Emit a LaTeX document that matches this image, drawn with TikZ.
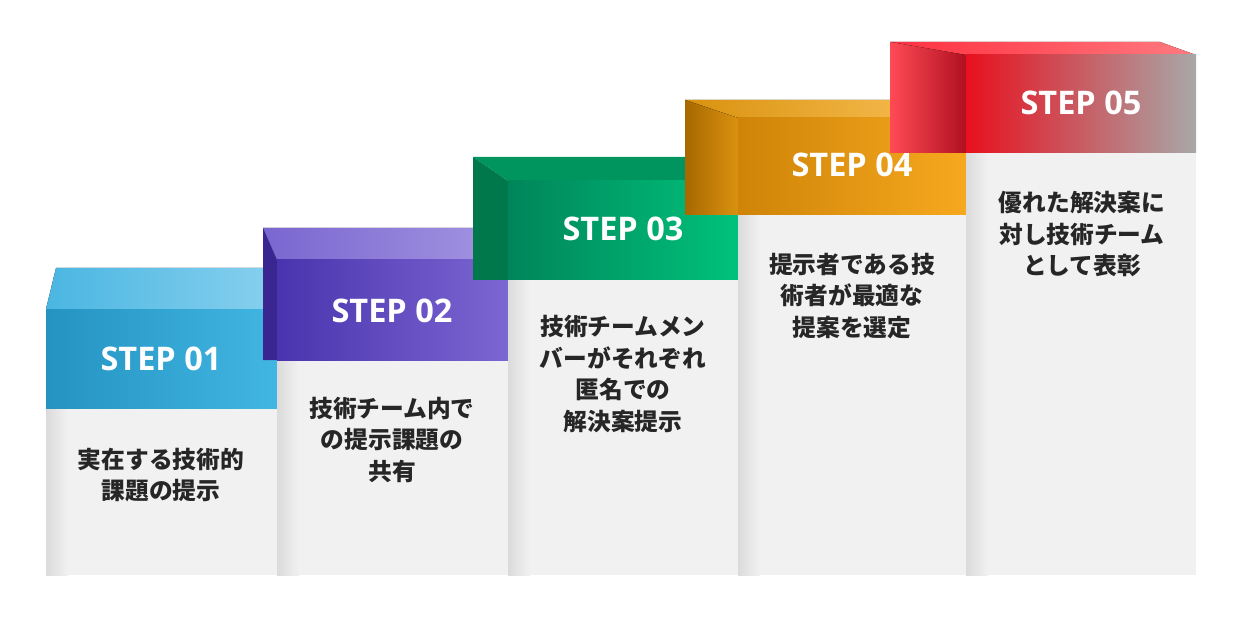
\documentclass[tikz,border=0pt]{standalone}
\usepackage{fontspec}
\setmainfont{Open Sans}
\newfontfamily\jp{Noto Sans CJK JP}
\definecolor{c1a}{HTML}{2493C2}\definecolor{c1b}{HTML}{42B6E2}\definecolor{c1t}{HTML}{88D0EE}\definecolor{c1l}{HTML}{4AB6E2}
\definecolor{c2a}{HTML}{4A34AE}\definecolor{c2b}{HTML}{7C66D2}\definecolor{c2t}{HTML}{A496E2}\definecolor{c2l}{HTML}{7A66D0}\definecolor{c2s}{HTML}{3A2690}
\definecolor{c3a}{HTML}{00855A}\definecolor{c3b}{HTML}{00C27C}\definecolor{c3t}{HTML}{00955F}\definecolor{c3s}{HTML}{00784C}
\definecolor{c4a}{HTML}{CF8408}\definecolor{c4b}{HTML}{F6A81E}\definecolor{c4t}{HTML}{FBC25A}\definecolor{c4l}{HTML}{D9920F}\definecolor{c4s}{HTML}{A86800}
\definecolor{c5a}{HTML}{E8101E}\definecolor{c5b}{HTML}{A8A8A8}\definecolor{c5t}{HTML}{FF7A80}\definecolor{c5l}{HTML}{FF3040}\definecolor{c5s}{HTML}{FF4A56}\definecolor{c5d}{HTML}{B01020}
\definecolor{bg}{HTML}{F1F1F1}
\newcommand\bodyat[4]{\fill[bg] (#1,#2) rectangle (#3,#4);
 \shade[left color=black!14,right color=bg] (#1,#2) rectangle (#1+22,#4);}
\begin{document}
\begin{tikzpicture}[x=0.02cm,y=-0.02cm,
 stp/.style={text=white,font=\fontsize{18.5}{22}\selectfont\bfseries},
 jt/.style={text=black!85,font=\jp\fontsize{13.5}{18}\selectfont\bfseries,align=center}]
\useasboundingbox (0,0) rectangle (1234,618);
% step 1
\fill[left color=c1l,right color=c1t] (46,309)--(56,268)--(263,268)--(277,309)--cycle;
\bodyat{46}{408}{277}{575}
\shade[left color=c1a,right color=c1b] (46,309) rectangle (277,408);
\node[stp] (s1) at (161,359) {STEP 01};
\node[jt] (t1) at (161,475) {実在する技術的\\課題の提示};
% step 2
\fill[left color=c2l,right color=c2t] (263,228)--(498,228)--(508,260)--(277,260)--cycle;
\fill[c2s] (263,228)--(277,260)--(277,360)--(263,360)--cycle;
\bodyat{277}{360}{508}{575}
\shade[left color=c2a,right color=c2b] (277,260) rectangle (508,360);
\node[stp] (s2) at (392,311) {STEP 02};
\node[jt] (t2) at (392,440) {技術チーム内で\\の提示課題の\\共有};
% step 3
\fill[c3t] (473,157)--(708,157)--(738,181)--(508,181)--cycle;
\fill[c3s] (473,157)--(508,181)--(508,280)--(473,280)--cycle;
\bodyat{508}{280}{738}{575}
\shade[left color=c3a,right color=c3b] (508,181) rectangle (738,280);
\node[stp] (s3) at (623,229) {STEP 03};
\node[jt] (t3) at (623,374) {技術チームメン\\バーがそれぞれ\\匿名での\\解決案提示};
% step 4
\fill[left color=c4l,right color=c4t] (685,100)--(945,100)--(966,118)--(738,118)--cycle;
\fill[left color=c4s,right color=c4l] (685,100)--(738,118)--(738,215)--(685,215)--cycle;
\bodyat{738}{215}{966}{575}
\shade[left color=c4a,right color=c4b] (738,118) rectangle (966,215);
\node[stp] (s4) at (852,165) {STEP 04};
\node[jt] (t4) at (852,296) {提示者である技\\術者が最適な\\提案を選定};
% step 5
\fill[left color=c5l,right color=c5t] (890,42)--(1160,42)--(1196,55)--(966,55)--cycle;
\fill[left color=c5s,right color=c5d] (890,42)--(966,55)--(966,153)--(890,153)--cycle;
\bodyat{966}{153}{1196}{575}
\shade[left color=c5a,right color=c5b] (966,55) rectangle (1196,153);
\node[stp] (s5) at (1081,103) {STEP 05};
\node[jt] (t5) at (1082,234) {優れた解決案に\\対し技術チーム\\として表彰};
\end{tikzpicture}
\end{document}
